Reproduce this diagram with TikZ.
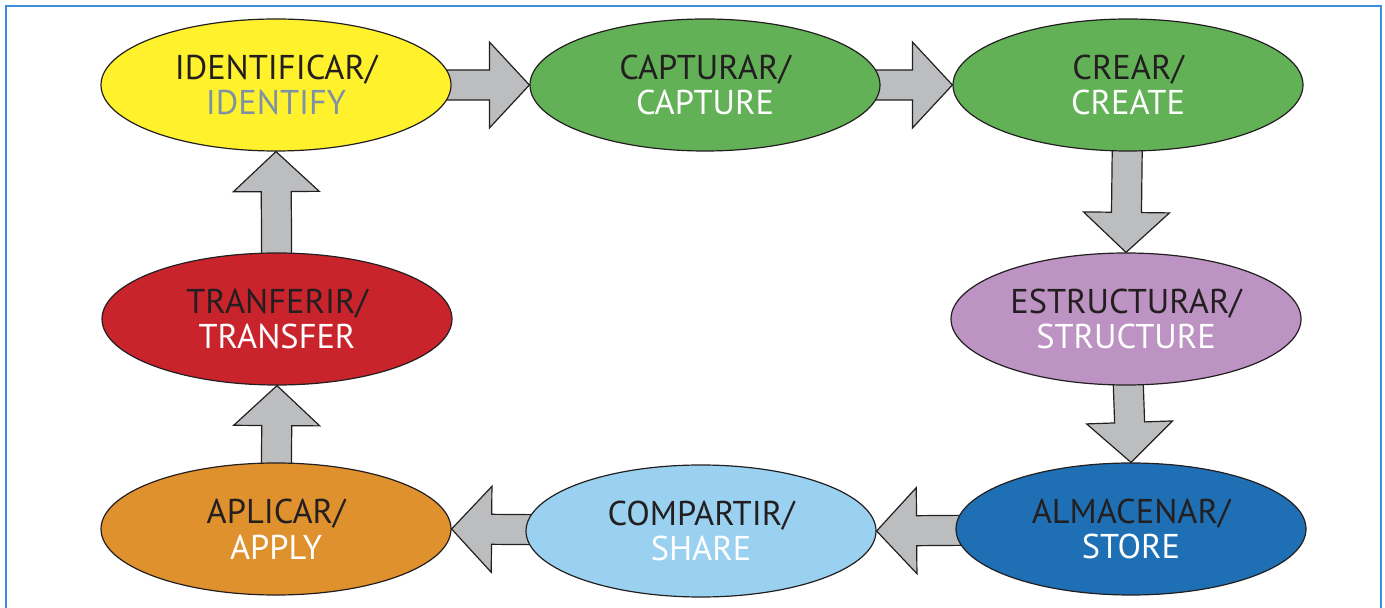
\documentclass[tikz,border=0pt]{standalone}
\usepackage{fontspec}
\setmainfont{PT Sans}
\usetikzlibrary{shapes.geometric,calc,backgrounds}
\definecolor{ink}{HTML}{231F20}
\definecolor{framec}{HTML}{3A8EDB}
\definecolor{arrowc}{HTML}{BCBDBF}
\definecolor{yellowc}{HTML}{FFF12B}
\definecolor{greyblue}{HTML}{7D92A6}
\definecolor{greenc}{HTML}{63B157}
\definecolor{purplec}{HTML}{BC93C2}
\definecolor{bluec}{HTML}{1F6FB5}
\definecolor{lightc}{HTML}{9AD1F1}
\definecolor{orangec}{HTML}{DF912E}
\definecolor{redc}{HTML}{C9232C}
\begin{document}
\begin{tikzpicture}[x=0.5pt, y=-0.5pt,
  main/.style = {draw=ink, line width=0.6pt, ellipse, minimum width=175pt, minimum height=66pt,
    inner sep=0pt, align=center, text=ink, font=\fontsize{17.2}{17.8}\selectfont},
  fat/.style = {draw=ink, fill=arrowc, line width=0.6pt, to path={
    ($(\tikztostart)!7.5pt!90:(\tikztotarget)$)
    -- ($(\tikztotarget)!20pt!(\tikztostart)!7.5pt!90:(\tikztotarget)$)
    -- ($(\tikztotarget)!20pt!(\tikztostart)!21.5pt!90:(\tikztotarget)$)
    -- (\tikztotarget)
    -- ($(\tikztotarget)!20pt!(\tikztostart)!21.5pt!-90:(\tikztotarget)$)
    -- ($(\tikztotarget)!20pt!(\tikztostart)!7.5pt!-90:(\tikztotarget)$)
    -- ($(\tikztostart)!7.5pt!-90:(\tikztotarget)$) -- cycle}}]
\useasboundingbox (0,0) rectangle (1385,608);
\draw[framec, line width=1pt] (6,620) -- (6,6) -- (1381,6) -- (1381,620);

% top row
\node[main, fill=yellowc] (identify) at (276,85) {IDENTIFICAR/\\\textcolor{greyblue}{IDENTIFY}};
\node[main, fill=greenc] (capture) at (705,85) {CAPTURAR/\\\textcolor{white}{CAPTURE}};
\node[main, fill=greenc] (create) at (1128,85) {CREAR/\\\textcolor{white}{CREATE}};
% middle row
\node[main, fill=redc] (transfer) at (277,319) {TRANFERIR/\\\textcolor{white}{TRANSFER}};
\node[main, fill=purplec] (structure) at (1126,319) {ESTRUCTURAR/\\\textcolor{white}{STRUCTURE}};
% bottom row
\node[main, fill=orangec] (apply) at (276,529) {APLICAR/\\\textcolor{white}{APPLY}};
\node[main, fill=lightc] (share) at (701,531) {COMPARTIR/\\\textcolor{white}{SHARE}};
\node[main, fill=bluec] (store) at (1131,529) {ALMACENAR/\\\textcolor{white}{STORE}};

\begin{scope}[on background layer]
\draw[fat] (identify.center) to (capture.west);
\draw[fat] (capture.center) to (create.west);
\draw[fat] (create.center) to (structure.north);
\draw[fat] (structure.center) to (store.north);
\draw[fat] (store.center) to (share.east);
\draw[fat] (share.center) to (apply.east);
\draw[fat] (apply.center) to (transfer.south);
\draw[fat] (transfer.center) to (identify.south);
\end{scope}
\end{tikzpicture}
\end{document}
